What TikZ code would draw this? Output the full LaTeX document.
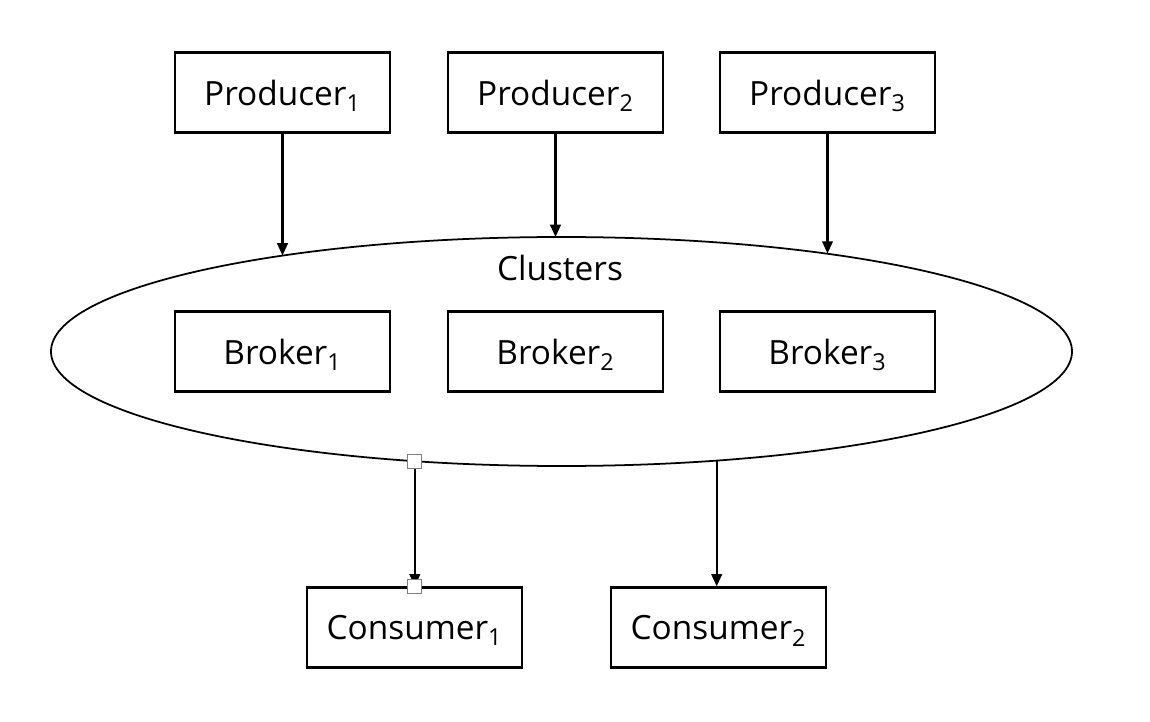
\documentclass[tikz,border=0pt]{standalone}
\usepackage{fontspec}
\setmainfont{Open Sans}
\usetikzlibrary{arrows.meta,shapes.geometric,calc}

\begin{document}
\begin{tikzpicture}[
		box/.style={draw,line width=1.3pt,minimum width=4.3cm,minimum height=1.6cm,inner sep=0pt,text depth=0pt,font=\fontsize{19}{22}\selectfont},
		vect/.style={->,line width=1.35pt,>={Triangle[length=7pt,width=6pt]}},
		handle/.style={draw=gray,fill=white,line width=0.5pt,minimum size=0.28cm,inner sep=0pt}]
		\useasboundingbox (0,0) rectangle (23,-14.44);% picture frame

		\node[ellipse,draw,line width=1pt,minimum width=20.42cm,minimum height=4.58cm,inner sep=0pt] (clus) at (11.23,-7.03) {};
		\node[font=\fontsize{19}{22}\selectfont] (title) at (11.2,-5.36) {Clusters};

		\node[box] (p1) at (5.65,-1.85) {Producer\textsubscript{1}};
		\node[box] (p2) at (11.11,-1.85) {Producer\textsubscript{2}};
		\node[box] (p3) at (16.55,-1.85) {Producer\textsubscript{3}};

		\node[box] (b1) at (5.65,-7.03) {Broker\textsubscript{1}};
		\node[box] (b2) at (11.11,-7.03) {Broker\textsubscript{2}};
		\node[box] (b3) at (16.55,-7.03) {Broker\textsubscript{3}};

		\node[box] (c1) at (8.29,-12.55) {Consumer\textsubscript{1}};
		\node[box] (c2) at (14.37,-12.55) {Consumer\textsubscript{2}};

		% points on the rim of the cluster
		\coordinate (rim1) at ($(clus.center)+(123.06:10.21cm and 2.29cm)$);
		\coordinate (rim2) at ($(clus.center)+(90.73:10.21cm and 2.29cm)$);
		\coordinate (rim3) at ($(clus.center)+(58.8:10.21cm and 2.29cm)$);
		\coordinate (rim4) at ($(clus.center)+(-106.7:10.21cm and 2.29cm)$);
		\coordinate (rim5) at ($(clus.center)+(-72.3:10.21cm and 2.29cm)$);

		\draw[vect] (p1.south) -- (p1.south |- rim1);
		\draw[vect] (p2.south) -- (p2.south |- rim2);
		\draw[vect] (p3.south) -- (p3.south |- rim3);
		\draw[vect] (rim4) -- (rim4 |- c1.north);
		\draw[vect] (rim5) -- (rim5 |- c2.north);

		\node[handle] (h1) at (rim4) {};
		\node[handle] (h2) at (rim4 |- c1.north) {};
	\end{tikzpicture}
\end{document}
